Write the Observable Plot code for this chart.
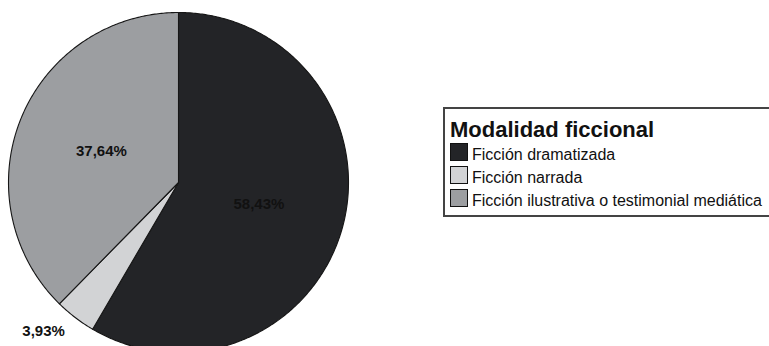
<!DOCTYPE html>
<html><head><meta charset="utf-8">
<script src="https://cdn.jsdelivr.net/npm/d3@7"></script>
<script src="https://cdn.jsdelivr.net/npm/@observablehq/plot@0.6"></script>
<style>
body{margin:0;background:#fff;}
#wrap{position:relative;width:769px;height:346px;overflow:hidden;font-family:"Liberation Sans",Arial,sans-serif;background:#fff;}
#chart{position:absolute;left:0;top:0;}
#legend{position:absolute;left:443px;top:107px;width:360px;height:110px;box-sizing:border-box;border:2px solid #444;background:#fff;}
.lt{position:absolute;left:5px;font-weight:bold;font-size:22px;line-height:22px;color:#111;white-space:nowrap;}
.sw{position:absolute;left:5px;width:18px;height:18px;box-sizing:border-box;border:1.5px solid #111;}
.tx{position:absolute;left:27px;font-size:16px;line-height:16px;color:#111;white-space:nowrap;}
</style></head><body>
<div id="wrap"><div id="chart"></div><div id="legend"></div></div>
<script>
const categories = ["Ficción dramatizada", "Ficción narrada", "Ficción ilustrativa o testimonial mediática"];
const values = [58.43, 3.93, 37.64];
const labels = ["58,43%", "3,93%", "37,64%"];
const colors = ["#232427", "#d2d3d5", "#9c9ea1"];
const legendTitle = "Modalidad ficcional";

const arcs = d3.pie().sort(null).value(d => d)(values);
const wedge = [];
arcs.forEach((a, i) => {
  const cat = categories[i];
  wedge.push({cat, x: 0, y: 0});
  const n = Math.max(2, Math.ceil((a.endAngle - a.startAngle) / 0.01));
  for (let k = 0; k <= n; k++) {
    const t = a.startAngle + (a.endAngle - a.startAngle) * k / n;
    wedge.push({cat, x: Math.sin(t), y: Math.cos(t)});
  }
});
const labelRadius = [0.49, 1.18, 0.49];
const labelShift = [[0, 0], [-13, -11], [0, 0]];
const labelPts = arcs.map((a, i) => {
  const m = (a.startAngle + a.endAngle) / 2;
  return {x: labelRadius[i] * Math.sin(m), y: labelRadius[i] * Math.cos(m), text: labels[i], dx: labelShift[i][0], dy: labelShift[i][1]};
});

const textMarks = labelPts.map(p => Plot.text([p], {x: "x", y: "y", text: "text", dx: p.dx, dy: p.dy, fontWeight: "bold", fontSize: 15, fill: "#111", fontFamily: "Liberation Sans, Arial, sans-serif"}));

const chart = Plot.plot({
  width: 769, height: 346, margin: 0,
  style: {background: "transparent", overflow: "visible"},
  x: {domain: [-1, 1], range: [8, 348], axis: null},
  y: {domain: [-1, 1], range: [352, 12], axis: null},
  color: {domain: categories, range: colors},
  marks: [
    Plot.line(wedge, {x: "x", y: "y", z: "cat", fill: "cat", stroke: "#161616", strokeWidth: 1.1, curve: "linear-closed"}),
    ...textMarks
  ]
});
document.getElementById("chart").appendChild(chart);

const lg = document.getElementById("legend");
const t = document.createElement("div");
t.className = "lt"; t.style.top = (118.5 - 107 - 2) + "px"; t.textContent = legendTitle;
lg.appendChild(t);
categories.forEach((c, i) => {
  const sw = document.createElement("div");
  sw.className = "sw"; sw.style.top = (143 + 23 * i - 109) + "px"; sw.style.background = colors[i];
  lg.appendChild(sw);
  const tx = document.createElement("div");
  tx.className = "tx"; tx.style.top = (146.5 + 23 * i - 109) + "px"; tx.textContent = c;
  lg.appendChild(tx);
});
</script>
</body></html>
